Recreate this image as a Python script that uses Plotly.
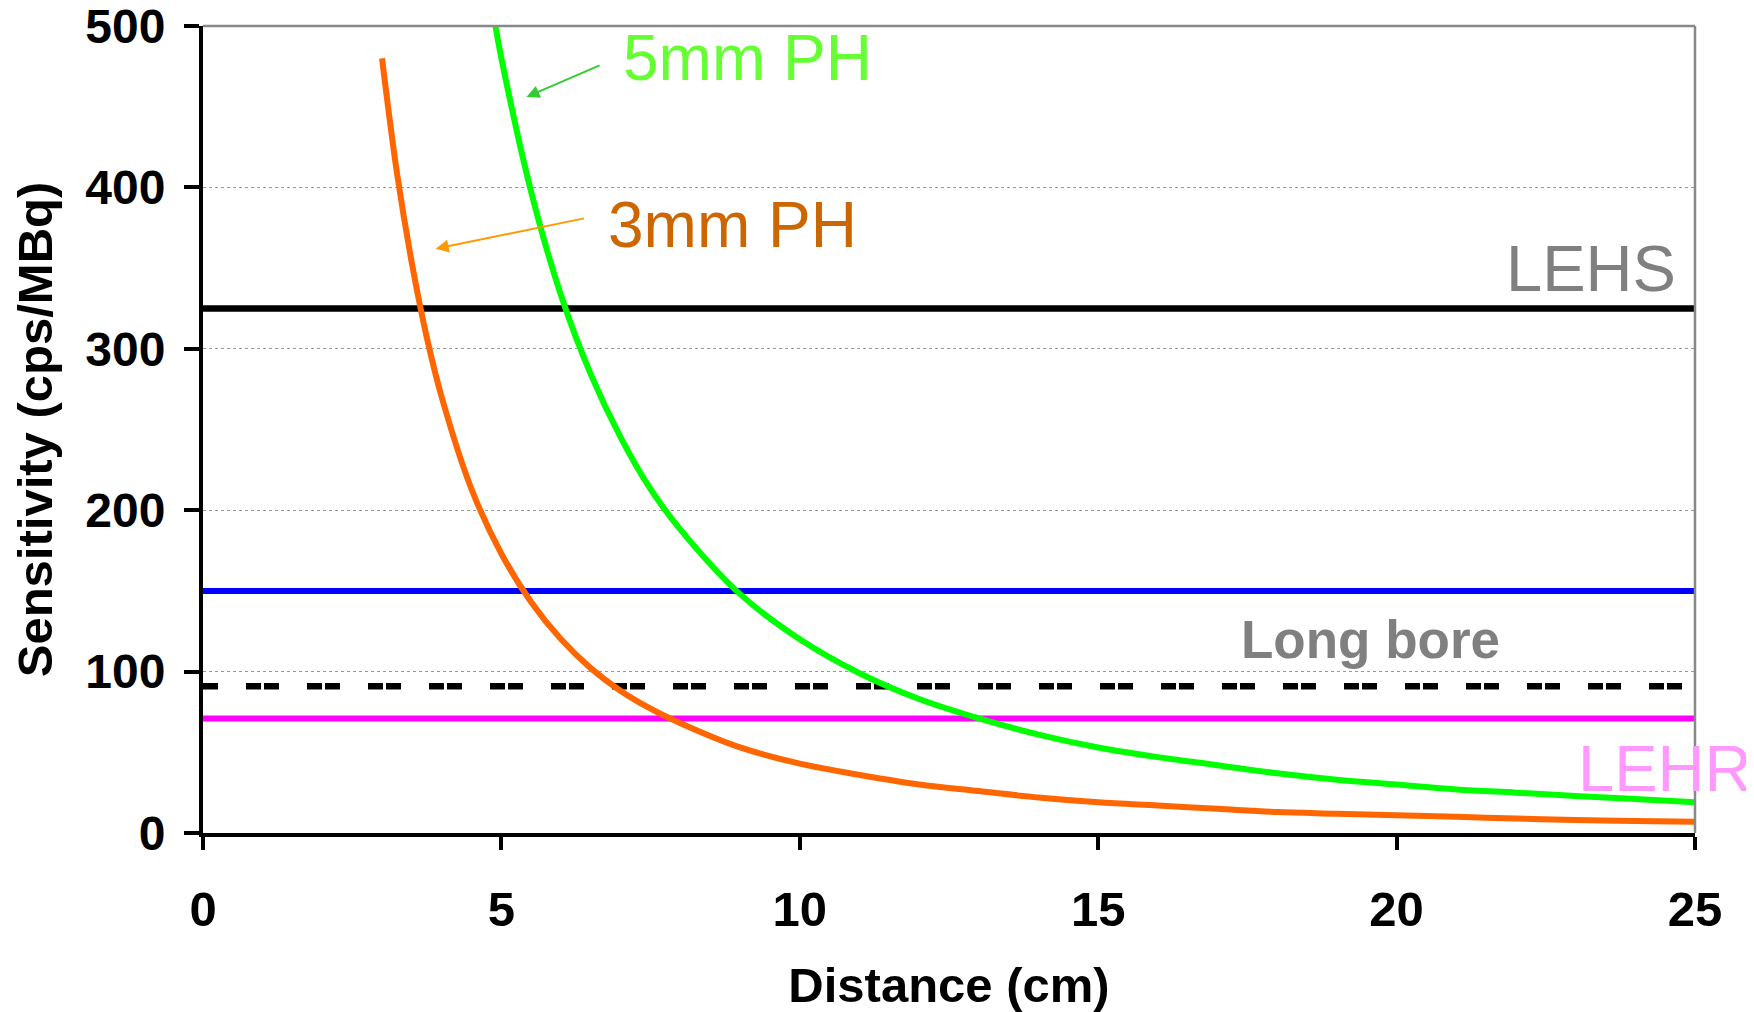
import plotly.graph_objects as go

# Distances (cm) and sensitivities (cps/MBq)
d_3mm = [3, 3.25, 3.5, 3.75, 4, 4.5, 5, 5.5, 6, 6.5, 7, 7.5, 8, 9, 10, 11, 12, 13, 14, 15,
         16, 17, 18, 19, 20, 21, 22, 23, 24, 25]
s_3mm = [480, 409, 353, 307, 270, 213, 173, 143, 120, 102, 88, 77, 68, 53, 43, 36, 30, 26, 22, 19,
         17, 15, 13, 12, 11, 10, 9, 8, 7.5, 7]

d_5mm = [4.9, 5, 5.5, 6, 6.5, 7, 7.5, 8, 9, 10, 11, 12, 13, 14, 15, 16, 17, 18, 19, 20,
         21, 22, 23, 24, 25]
s_5mm = [500, 480, 397, 333, 284, 245, 213, 188, 148, 120, 99, 83, 71, 61, 53, 47, 42, 37, 33, 30,
         27, 25, 23, 21, 19]

x_span = [0, 25]
lehs_level = 325
blue_level = 150
longbore_level = 91
lehr_level = 71

x_ticks = [0, 5, 10, 15, 20, 25]
y_ticks = [0, 100, 200, 300, 400, 500]

FONT = "Liberation Sans, Arial, sans-serif"

fig = go.Figure()

fig.add_trace(go.Scatter(x=x_span, y=[lehs_level] * 2, mode="lines",
                         line=dict(color="black", width=6.5)))
fig.add_trace(go.Scatter(x=x_span, y=[blue_level] * 2, mode="lines",
                         line=dict(color="#0000FF", width=6)))
fig.add_trace(go.Scatter(x=x_span, y=[longbore_level] * 2, mode="lines",
                         line=dict(color="black", width=6.5, dash="15px,28px,15px,3px")))
fig.add_trace(go.Scatter(x=x_span, y=[lehr_level] * 2, mode="lines",
                         line=dict(color="#FF00FF", width=6)))
fig.add_trace(go.Scatter(x=d_5mm, y=s_5mm, mode="lines",
                         line=dict(color="#00FF00", width=6, shape="spline")))
fig.add_trace(go.Scatter(x=d_3mm, y=s_3mm, mode="lines",
                         line=dict(color="#FF6600", width=6, shape="spline")))

annots = [
    dict(x=7.01, y=480, text="5mm PH", xanchor="left", yanchor="middle",
         font=dict(size=64, color="#66FF33")),
    dict(x=6.75, y=377, text="3mm PH", xanchor="left", yanchor="middle",
         font=dict(size=64, color="#CC6600")),
    dict(x=24.72, y=350, text="LEHS", xanchor="right", yanchor="middle",
         font=dict(size=65, color="#808080")),
    dict(x=19.57, y=120, text="<b>Long bore</b>", xanchor="center", yanchor="middle",
         font=dict(size=53, color="#808080")),
    dict(x=23.0, y=40, text="LEHR", xanchor="left", yanchor="middle",
         font=dict(size=65, color="#FF99FF")),
    dict(x=5.42, y=456, ax=6.67, ay=476, axref="x", ayref="y", text="", showarrow=True,
         arrowhead=2, arrowsize=1.3, arrowwidth=2, arrowcolor="#33CC33"),
    dict(x=3.90, y=362, ax=6.41, ay=381, axref="x", ayref="y", text="", showarrow=True,
         arrowhead=2, arrowsize=1.3, arrowwidth=2, arrowcolor="#FF9900"),
]
for a in annots:
    a.setdefault("showarrow", False)
    a["font"] = dict(family=FONT, **a.get("font", {})) if "font" in a else dict(family=FONT)
    fig.add_annotation(**a)

fig.update_layout(
    width=1754, height=1012,
    margin=dict(l=195, r=67, t=18, b=187),
    paper_bgcolor="white", plot_bgcolor="white",
    showlegend=False,
    font=dict(family=FONT, color="black"),
    xaxis=dict(range=[0, 25], tickvals=x_ticks, showgrid=False, zeroline=False,
               showline=True, linecolor="black", linewidth=4, automargin=False,
               ticks="outside", ticklen=13, tickwidth=4, tickcolor="black",
               ticklabeloverflow="allow",
               tickfont=dict(size=49, weight="bold"), ticklabelstandoff=17,
               title=dict(text="<b>Distance (cm)</b>", font=dict(size=49), standoff=34)),
    yaxis=dict(range=[0, 500], tickvals=y_ticks, showgrid=True, gridcolor="#999999",
               griddash="dot", gridwidth=1, zeroline=False, automargin=False,
               showline=True, linecolor="black", linewidth=4,
               ticks="outside", ticklen=15, tickwidth=4, tickcolor="black",
               ticklabeloverflow="allow",
               tickfont=dict(size=48, weight="bold"), ticklabelstandoff=9,
               title=dict(text="<b>Sensitivity (cps/MBq)</b>", font=dict(size=49), standoff=20)),
    shapes=[
        dict(type="line", xref="paper", yref="paper", x0=0, x1=1, y0=1, y1=1,
             line=dict(color="#888888", width=2.5)),
        dict(type="line", xref="paper", yref="paper", x0=1, x1=1, y0=0, y1=1,
             line=dict(color="#888888", width=2.5)),
    ],
)

fig.write_html("out.html")
